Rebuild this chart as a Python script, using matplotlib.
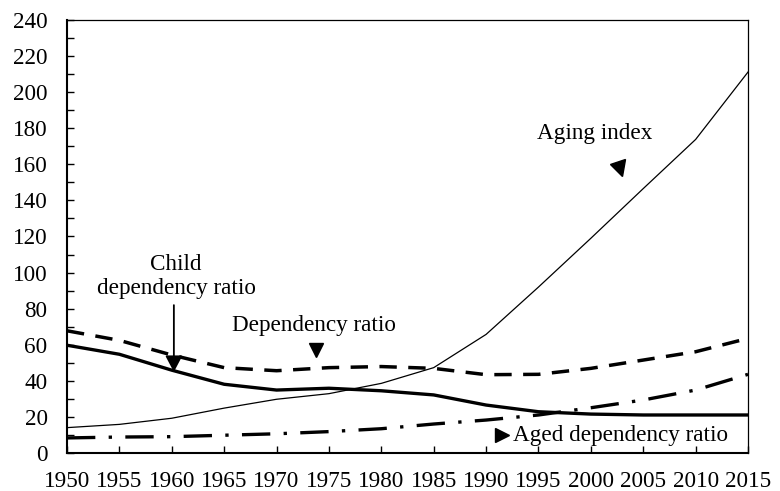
import numpy as np
import matplotlib.pyplot as plt
from matplotlib.ticker import MultipleLocator
from matplotlib.markers import MarkerStyle
from matplotlib.transforms import Affine2D

# values
years = [1950, 1955, 1960, 1965, 1970, 1975, 1980, 1985, 1990, 1995, 2000, 2005, 2010, 2015]
aging_index = [14.2, 16.0, 19.4, 25.0, 29.9, 33.0, 38.7, 47.4, 65.8, 92.0, 119.0, 146.5, 173.7, 211.0]
dependency_ratio = [67.8, 62.5, 54.4, 47.4, 45.7, 47.4, 48.0, 47.0, 43.5, 43.7, 47.0, 51.6, 56.2, 63.6]
child_ratio = [59.8, 54.8, 46.0, 38.2, 35.0, 36.0, 34.6, 32.3, 26.7, 23.0, 21.7, 21.2, 21.2, 21.2]
aged_ratio = [8.5, 9.0, 9.2, 10.0, 10.8, 12.0, 13.6, 16.2, 18.4, 21.2, 25.2, 29.5, 35.0, 43.7]

plt.rcParams['font.family'] = ['Liberation Serif', 'DejaVu Serif']
fs = 16.7

fig = plt.figure(figsize=(7.8, 4.91), dpi=100)
ax = fig.add_axes([0.0859, 0.0768, 0.959 - 0.0859, 0.960 - 0.0768])

ax.plot(years, aging_index, color='black', lw=0.9)
ax.plot(years, dependency_ratio, color='black', lw=2.5, dashes=(5, 3.3))
ax.plot(years, child_ratio, color='black', lw=2.4)
ax.plot(years, aged_ratio, color='black', lw=2.4, dashes=(8.5, 4, 1, 4))

ax.set_xlim(1950, 2015)
ax.set_ylim(0, 240)
ax.set_xticks(years)
ax.yaxis.set_major_locator(MultipleLocator(20))
ax.yaxis.set_minor_locator(MultipleLocator(10))
ax.tick_params(axis='both', direction='in', labelsize=fs, width=1, length=5)
ax.tick_params(axis='y', which='minor', direction='in', length=5, width=1)
ax.tick_params(axis='y', pad=14)
ax.tick_params(axis='x', pad=13)

for side in ['left', 'bottom']:
    ax.spines[side].set_linewidth(1.5)
for side in ['top', 'right']:
    ax.spines[side].set_linewidth(0.9)

# annotations
ax.text(2000.4, 177.2, 'Aging index', ha='center', va='center', fontsize=fs)
tri = MarkerStyle('v', transform=Affine2D().rotate_deg(18))
ax.plot([2002.8], [157.1], marker=tri, color='black', markersize=11, ls='none')

ax.text(1973.6, 71, 'Dependency ratio', ha='center', va='center', fontsize=fs)
ax.plot([1973.8], [57.2], marker='v', color='black', markersize=10.5, ls='none')

ax.text(1960.4, 98, 'Child\ndependency ratio', ha='center', va='center',
        fontsize=fs, linespacing=1.2)
ax.annotate('', xy=(1960.2, 45), xytext=(1960.2, 82),
            arrowprops=dict(arrowstyle='-|>,head_length=0.38,head_width=0.2',
                            color='black', lw=1.3,
                            mutation_scale=26, shrinkA=0, shrinkB=0))

ax.plot([1991.5], [10.1], marker='>', color='black', markersize=10.5, ls='none')
ax.text(1992.6, 10.1, 'Aged dependency ratio', ha='left', va='center', fontsize=fs)

fig.savefig('out.png', dpi=100)
